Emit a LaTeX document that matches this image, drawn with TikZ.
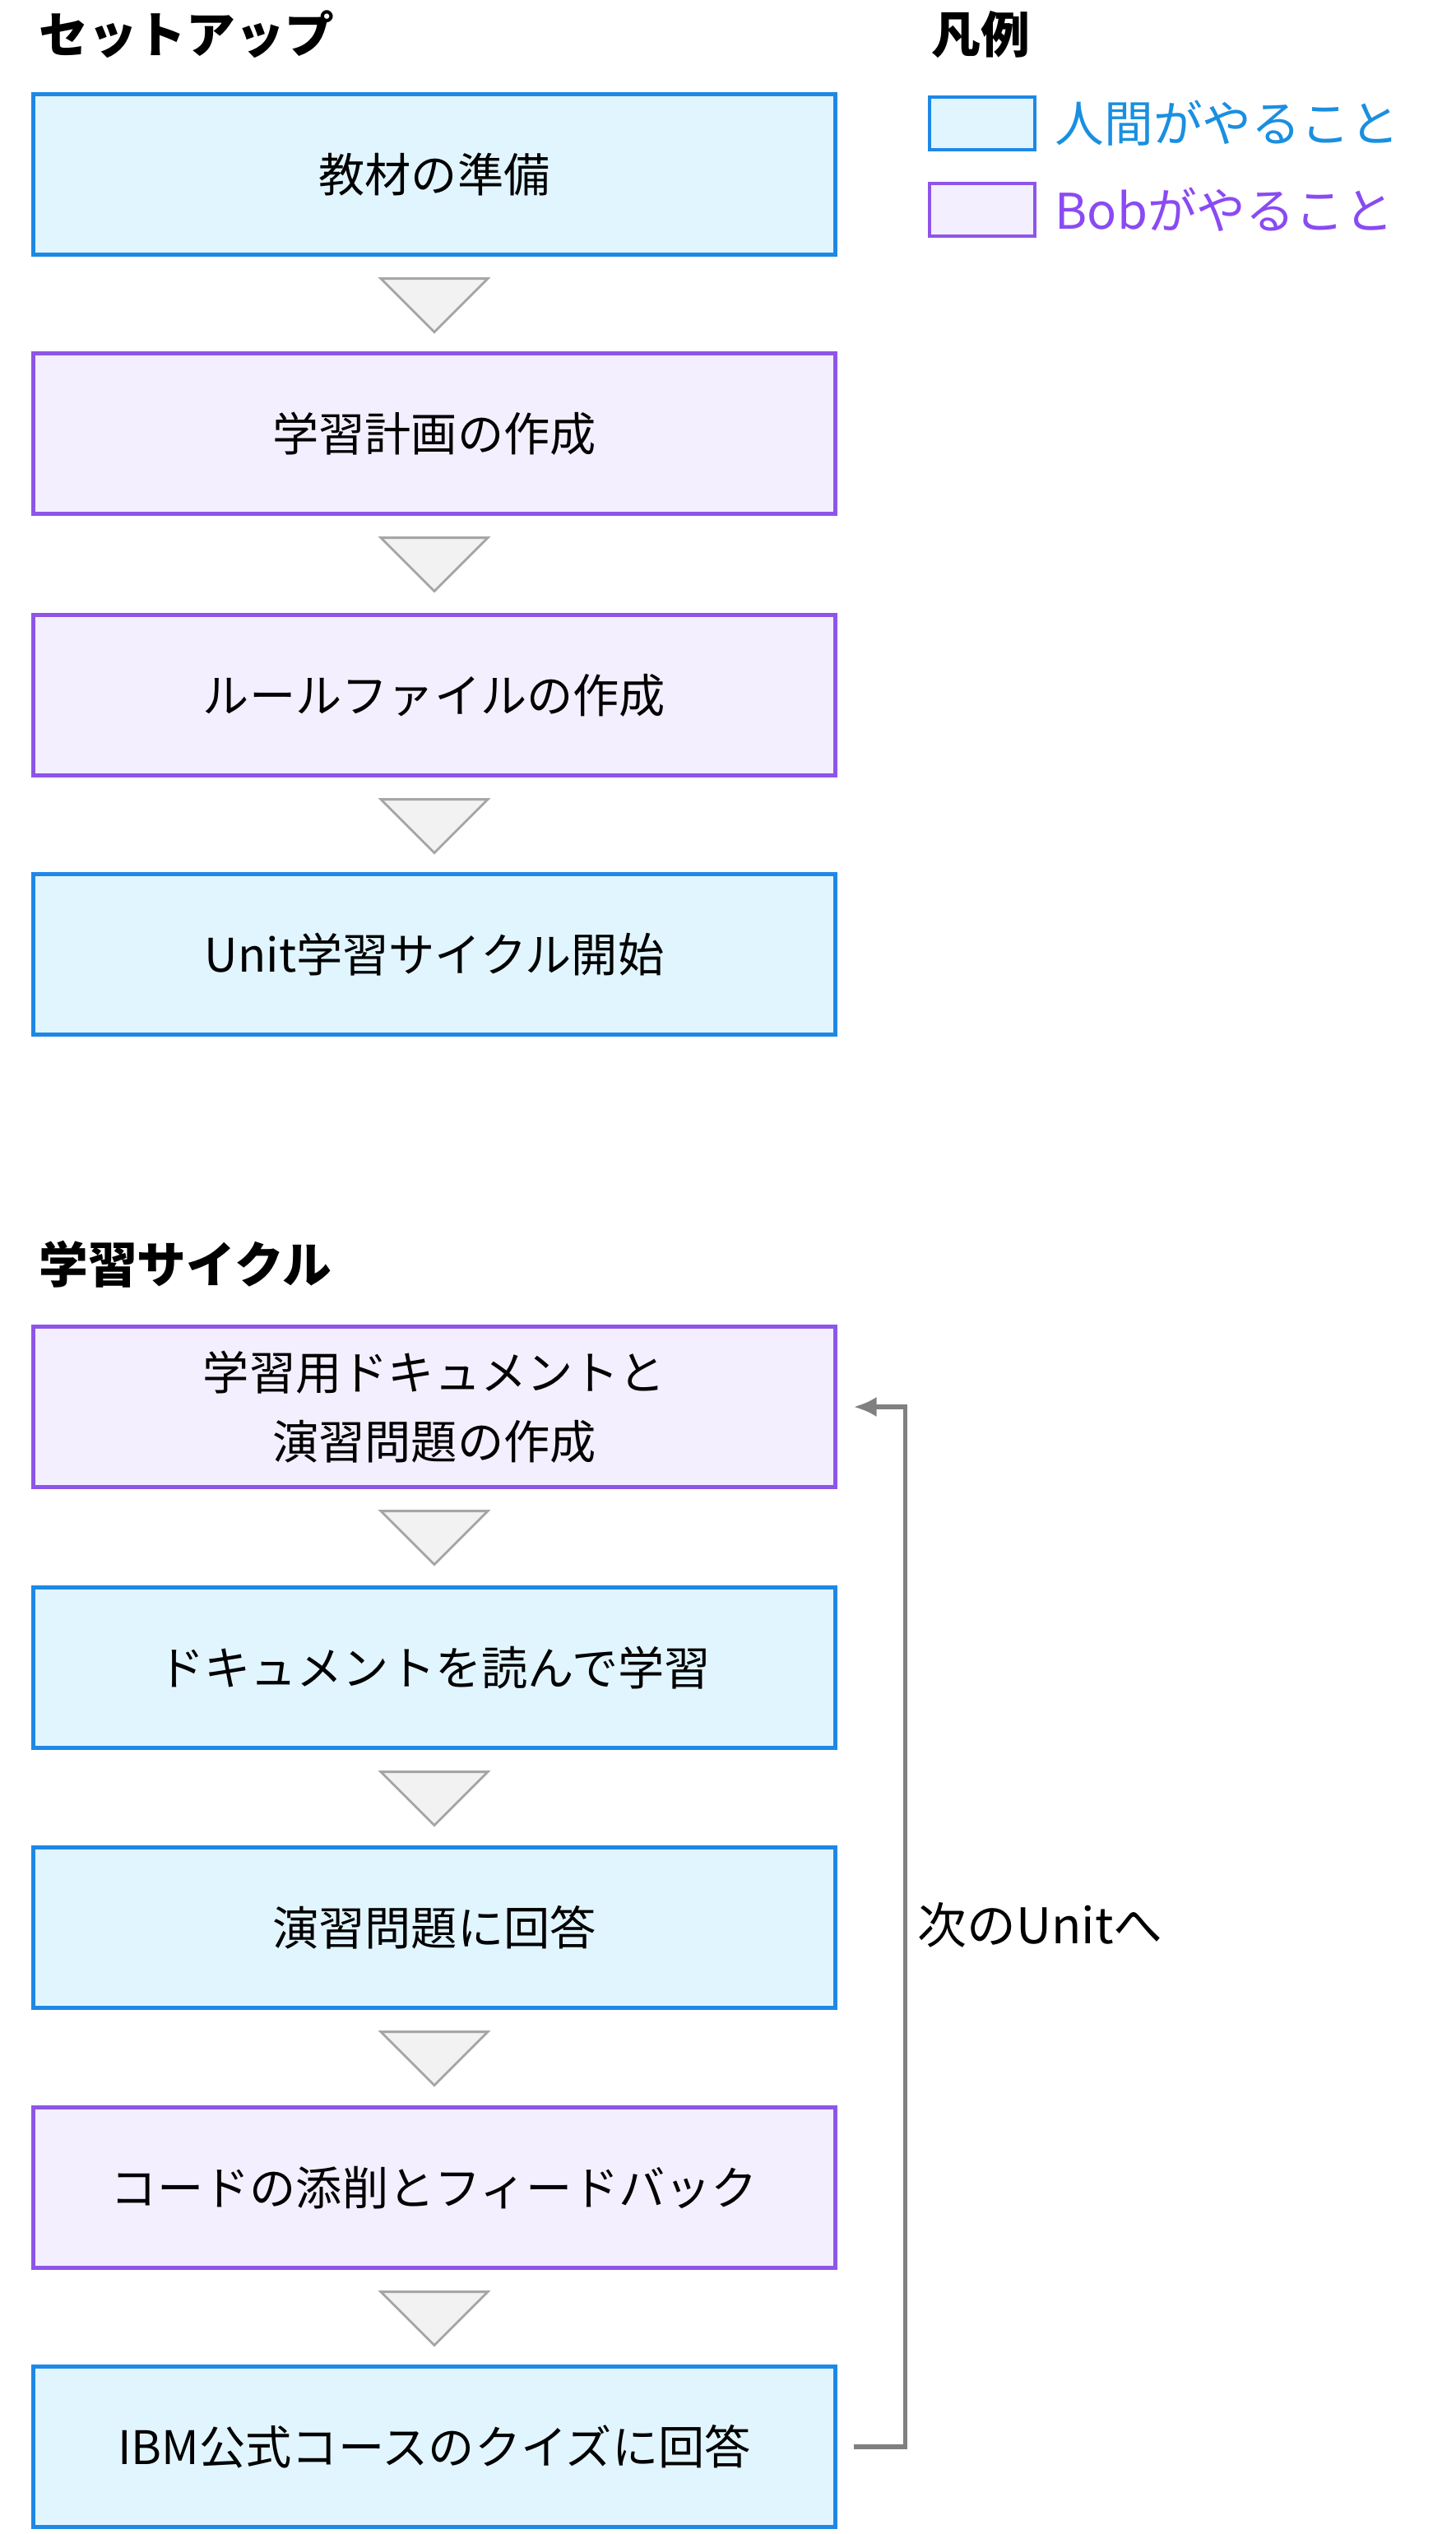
\documentclass[tikz,border=0pt]{standalone}
\usepackage{fontspec}
\setmainfont{Noto Sans CJK JP}
\usetikzlibrary{calc,arrows.meta}

\definecolor{humanfill}{HTML}{E1F5FE}
\definecolor{humanline}{HTML}{1E88E5}
\definecolor{bobfill}{HTML}{F3EFFE}
\definecolor{bobline}{HTML}{8E55E8}
\definecolor{humantext}{HTML}{1A8FE0}
\definecolor{bobtext}{HTML}{8A4AF3}

\tikzset{
  task/.style={draw, line width=1.2pt, minimum width=9.75cm, minimum height=1.95cm,
    align=center, font=\fontsize{16}{24}\selectfont, inner sep=0pt},
  human/.style={task, fill=humanfill, draw=humanline},
  bob/.style={task, fill=bobfill, draw=bobline},
  heading/.style={anchor=west, font=\fontsize{17}{20}\selectfont\bfseries},
  keybox/.style={draw, line width=1.2pt, minimum width=1.28cm, minimum height=0.64cm, inner sep=0pt},
  keytext/.style={anchor=west, font=\fontsize{17}{20}\selectfont, inner sep=0pt}
}
\newcommand{\downtri}[1]{%
  \draw[gray!70, fill=gray!10, line width=0.8pt]
    ($(#1.south)+(-0.65,-0.27)$) -- ($(#1.south)+(0.65,-0.27)$)
    -- ($(#1.south)+(0,-0.92)$) -- cycle;}

\begin{document}
\begin{tikzpicture}
  \useasboundingbox (0,0) rectangle (17.69,-30.80);

  % Setup
  \node[heading] (setup) at (0.35,-0.42) {セットアップ};
  \node[human] (prep)  at (5.28,-2.12) {教材の準備};
  \node[bob]   (plan)  at (5.28,-5.27) {学習計画の作成};
  \node[bob]   (rules) at (5.28,-8.45) {ルールファイルの作成};
  \node[human] (start) at (5.28,-11.60) {Unit学習サイクル開始};
  \downtri{prep}
  \downtri{plan}
  \downtri{rules}

  % Legend
  \node[heading] (legend) at (11.2,-0.42) {凡例};
  \node[keybox, fill=humanfill, draw=humanline] (keyh) at (11.94,-1.50) {};
  \node[keytext, text=humantext] (keyhtxt) at (12.82,-1.50) {人間がやること};
  \node[keybox, fill=bobfill, draw=bobline] (keyb) at (11.94,-2.55) {};
  \node[keytext, text=bobtext] (keybtxt) at (12.82,-2.55) {Bobがやること};

  % Study cycle
  \node[heading] (cycle) at (0.35,-15.37) {学習サイクル};
  \node[bob]   (docs)   at (5.28,-17.10) {学習用ドキュメントと\\演習問題の作成};
  \node[human] (read)   at (5.28,-20.27) {ドキュメントを読んで学習};
  \node[human] (answer) at (5.28,-23.43) {演習問題に回答};
  \node[bob]   (review) at (5.28,-26.59) {コードの添削とフィードバック};
  \node[human] (quiz)   at (5.28,-29.74) {IBM公式コースのクイズに回答};
  \downtri{docs}
  \downtri{read}
  \downtri{answer}
  \downtri{review}

  % Loop back
  \coordinate (qout) at ($(quiz.east)+(0.2,0)$);
  \coordinate (din) at ($(docs.east)+(0.2,0)$);
  \draw[gray, line width=1.6pt, -{Latex[length=8pt,width=7pt]}]
    (qout) -- ++(0.63,0) |- (din);
  \node[keytext] (next) at (11.15,-23.40) {次のUnitへ};
\end{tikzpicture}
\end{document}
